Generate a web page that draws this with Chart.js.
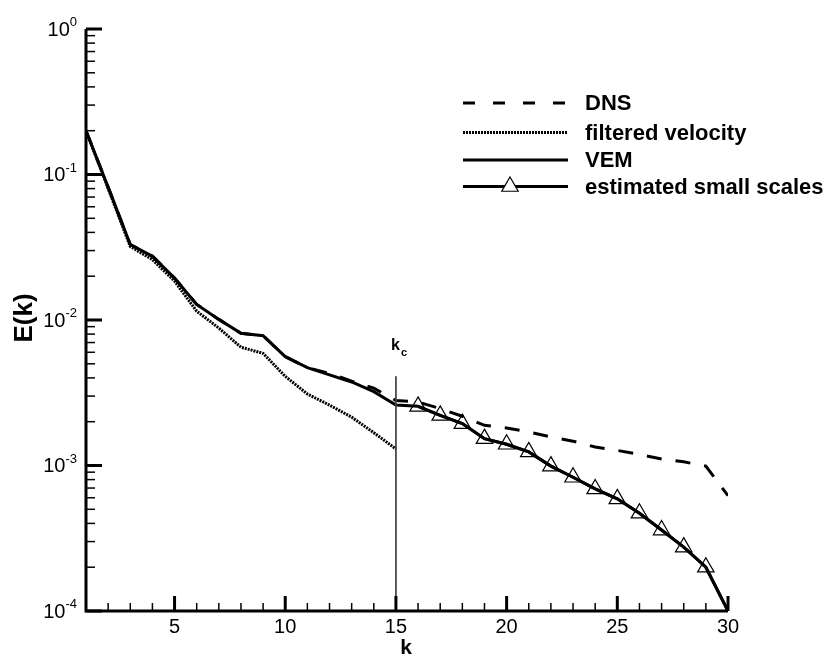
<!DOCTYPE html>
<html lang="en">
<head>
    <meta charset="UTF-8">
    <title>E(k) spectrum</title>
    <script src="https://cdn.jsdelivr.net/npm/chart.js"></script>
    <style>
        body {
            margin: 0;
            padding: 0;
            background-color: #fff;
        }

        #wrap {
            width: 826px;
            height: 658px;
        }
    </style>
</head>
<body>
    <div id="wrap">
        <canvas id="chart" width="826" height="658"></canvas>
    </div>

    <script>
        // wavenumbers k = 1..30
        const kValues = [1, 2, 3, 4, 5, 6, 7, 8, 9, 10, 11, 12, 13, 14, 15,
                         16, 17, 18, 19, 20, 21, 22, 23, 24, 25, 26, 27, 28, 29, 30];

        const dnsValues = [0.2, 0.082, 0.033, 0.0275, 0.0194, 0.0128, 0.0101, 0.0081, 0.0078, 0.0056,
                           0.0047, 0.0043, 0.0038, 0.0034, 0.0028, 0.00273, 0.00246, 0.00218, 0.00189, 0.00181,
                           0.0017, 0.00157, 0.00147, 0.00134, 0.00127, 0.00119, 0.00111, 0.00106, 0.00099, 0.00062];

        // filtered velocity only up to the cutoff k = 15
        const filteredValues = [0.2, 0.08, 0.032, 0.026, 0.0185, 0.0115, 0.0088, 0.0065, 0.0059, 0.0041,
                                0.0031, 0.0026, 0.00215, 0.00168, 0.0013];

        const vemValues = [0.2, 0.082, 0.033, 0.0274, 0.0194, 0.0128, 0.0101, 0.0081, 0.0078, 0.0056,
                           0.0047, 0.0042, 0.00375, 0.00322, 0.0026, 0.00255, 0.00221, 0.00194, 0.00153, 0.0014,
                           0.00124, 0.00099, 0.00083, 0.00069, 0.00059, 0.00047, 0.00036, 0.000275, 0.0002, 0.0001];

        // estimated small scales, k = 16..30
        const smallK = [16, 17, 18, 19, 20, 21, 22, 23, 24, 25, 26, 27, 28, 29, 30];
        const smallValues = [0.00255, 0.00221, 0.00194, 0.00153, 0.0014, 0.00124, 0.00099, 0.00083,
                             0.00069, 0.00059, 0.00047, 0.00036, 0.000275, 0.0002, 0.0001];

        // cutoff line k_c
        const kc = 15;
        const kcRange = [0.0041, 0.0001];

        const xMajorTicks = [5, 10, 15, 20, 25, 30];
        const yDecades = [1e-4, 1e-3, 1e-2, 1e-1, 1];
        const yExponents = ['-4', '-3', '-2', '-1', '0'];

        const legendLabels = ['DNS', 'filtered velocity', 'VEM', 'estimated small scales'];

        const FONT = '"Liberation Sans", Arial, sans-serif';

        function pairs(xs, ys) {
            return ys.map((v, i) => ({ x: xs[i], y: v }));
        }

        const axesPlugin = {
            id: 'axesPlugin',
            afterDraw(chart) {
                const ctx = chart.ctx;
                const a = chart.chartArea;
                const x = chart.scales.x;
                const y = chart.scales.y;
                ctx.save();
                ctx.strokeStyle = '#000';
                ctx.fillStyle = '#000';

                // minor ticks on x (every integer)
                ctx.lineWidth = 1.5;
                for (let k = 2; k < 30; k++) {
                    if (xMajorTicks.includes(k)) continue;
                    const px = x.getPixelForValue(k);
                    ctx.beginPath();
                    ctx.moveTo(px, a.bottom);
                    ctx.lineTo(px, a.bottom - 8);
                    ctx.stroke();
                }
                // minor ticks on y (2..9 per decade)
                for (let d = 0; d < yDecades.length - 1; d++) {
                    for (let m = 2; m <= 9; m++) {
                        const py = y.getPixelForValue(yDecades[d] * m);
                        ctx.beginPath();
                        ctx.moveTo(a.left, py);
                        ctx.lineTo(a.left + 9, py);
                        ctx.stroke();
                    }
                }

                // major ticks
                ctx.lineWidth = 3;
                xMajorTicks.forEach(k => {
                    const px = x.getPixelForValue(k);
                    ctx.beginPath();
                    ctx.moveTo(px, a.bottom);
                    ctx.lineTo(px, a.bottom - 15);
                    ctx.stroke();
                });
                yDecades.forEach(v => {
                    const py = y.getPixelForValue(v);
                    ctx.beginPath();
                    ctx.moveTo(a.left, py);
                    ctx.lineTo(a.left + 16, py);
                    ctx.stroke();
                });

                // axis lines
                ctx.beginPath();
                ctx.moveTo(a.left, a.top);
                ctx.lineTo(a.left, a.bottom);
                ctx.lineTo(a.right, a.bottom);
                ctx.stroke();

                // x tick labels
                ctx.font = '20px ' + FONT;
                ctx.textAlign = 'center';
                ctx.textBaseline = 'top';
                xMajorTicks.forEach(k => {
                    ctx.fillText(String(k), x.getPixelForValue(k), a.bottom + 6);
                });

                // y tick labels 10^n
                yDecades.forEach((v, i) => {
                    const py = y.getPixelForValue(v);
                    ctx.font = '13px ' + FONT;
                    ctx.textAlign = 'right';
                    ctx.textBaseline = 'alphabetic';
                    const expW = ctx.measureText(yExponents[i]).width;
                    ctx.fillText(yExponents[i], 77, py - 3);
                    ctx.font = '20px ' + FONT;
                    ctx.textBaseline = 'middle';
                    ctx.fillText('10', 77 - expW, py + 1);
                });

                // axis titles
                ctx.font = 'bold 21px ' + FONT;
                ctx.textAlign = 'center';
                ctx.textBaseline = 'middle';
                ctx.fillText('k', 406, 648);
                ctx.save();
                ctx.translate(25, 318);
                ctx.rotate(-Math.PI / 2);
                ctx.font = 'bold 26px ' + FONT;
                ctx.fillText('E(k)', 0, 0);
                ctx.restore();

                // k_c label
                ctx.textAlign = 'left';
                ctx.textBaseline = 'alphabetic';
                ctx.font = 'bold 16px ' + FONT;
                ctx.fillText('k', 391, 350);
                ctx.font = 'bold 11px ' + FONT;
                ctx.fillText('c', 401, 356);

                // legend
                const rows = [103, 132.5, 160, 186.5];
                const lx0 = 463, lx1 = 568;
                ctx.lineWidth = 3;
                rows.forEach((ry, i) => {
                    ctx.beginPath();
                    if (i === 0) ctx.setLineDash([12, 18]);
                    else if (i === 1) ctx.setLineDash([2, 1]);
                    else ctx.setLineDash([]);
                    ctx.moveTo(lx0, ry);
                    ctx.lineTo(lx1, ry);
                    ctx.stroke();
                });
                ctx.setLineDash([]);
                // triangle marker in legend
                const tr = 9.5, tcx = 510, tcy = rows[3];
                ctx.lineWidth = 1.2;
                ctx.beginPath();
                ctx.moveTo(tcx, tcy - tr);
                ctx.lineTo(tcx + tr * 0.866, tcy + tr * 0.5);
                ctx.lineTo(tcx - tr * 0.866, tcy + tr * 0.5);
                ctx.closePath();
                ctx.fillStyle = '#fff';
                ctx.fill();
                ctx.stroke();
                ctx.fillStyle = '#000';

                ctx.font = 'bold 22px ' + FONT;
                ctx.textAlign = 'left';
                ctx.textBaseline = 'middle';
                legendLabels.forEach((t, i) => {
                    ctx.fillText(t, 585, rows[i] + 1);
                });

                ctx.restore();
            }
        };

        const smallRadius = smallK.map(k => (k === 30 ? 0 : 9.5));

        new Chart(document.getElementById('chart'), {
            type: 'line',
            data: {
                datasets: [
                    {
                        label: 'kc',
                        data: [{ x: kc, y: kcRange[0] }, { x: kc, y: kcRange[1] }],
                        borderColor: '#444',
                        borderWidth: 1,
                        pointRadius: 0
                    },
                    {
                        label: legendLabels[0],
                        data: pairs(kValues, dnsValues),
                        borderColor: '#000',
                        borderWidth: 3,
                        borderDash: [15, 14],
                        pointRadius: 0
                    },
                    {
                        label: legendLabels[1],
                        data: pairs(kValues, filteredValues),
                        borderColor: '#000',
                        borderWidth: 3,
                        borderDash: [2, 1],
                        pointRadius: 0
                    },
                    {
                        label: legendLabels[2],
                        data: pairs(kValues, vemValues),
                        borderColor: '#000',
                        borderWidth: 3,
                        pointRadius: 0
                    },
                    {
                        label: legendLabels[3],
                        data: pairs(smallK, smallValues),
                        borderColor: '#000',
                        borderWidth: 3,
                        pointStyle: 'triangle',
                        pointRadius: smallRadius,
                        pointBorderWidth: 1.2,
                        pointBorderColor: '#000',
                        pointBackgroundColor: 'rgba(255,255,255,0)'
                    }
                ]
            },
            options: {
                responsive: false,
                animation: false,
                layout: {
                    padding: { left: 86, right: 98, top: 29, bottom: 47 }
                },
                elements: {
                    line: { tension: 0 }
                },
                plugins: {
                    legend: { display: false },
                    tooltip: { enabled: false }
                },
                scales: {
                    x: { type: 'linear', min: 1, max: 30, display: false },
                    y: { type: 'logarithmic', min: 1e-4, max: 1, display: false }
                }
            },
            plugins: [axesPlugin]
        });
    </script>
</body>
</html>
